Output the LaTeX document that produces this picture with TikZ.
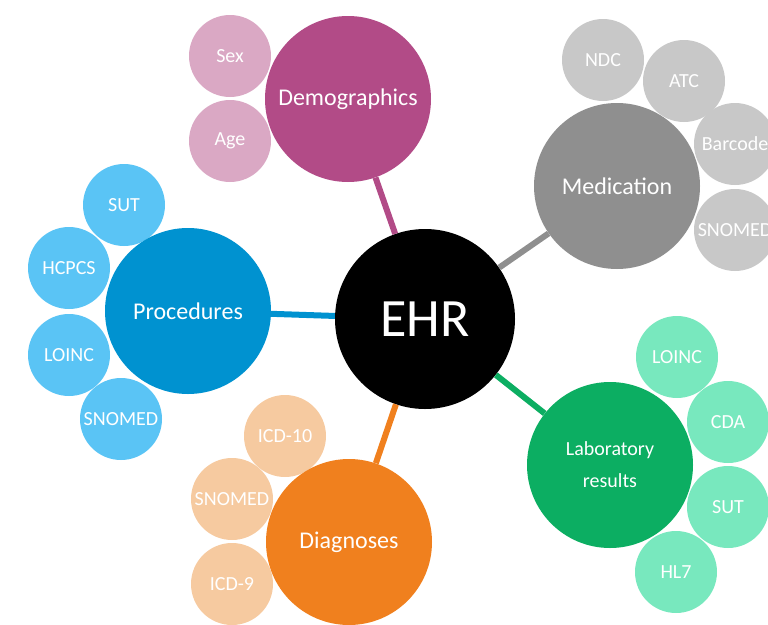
\documentclass[tikz,border=0pt]{standalone}
\usepackage{fontspec}
\setmainfont{Carlito}
\usepackage{tikz}
\definecolor{demodark}{RGB}{178,75,135}
\definecolor{demolight}{RGB}{218,168,196}
\definecolor{meddark}{RGB}{143,143,143}
\definecolor{medlight}{RGB}{200,200,200}
\definecolor{procdark}{RGB}{0,146,208}
\definecolor{proclight}{RGB}{90,196,245}
\definecolor{diagdark}{RGB}{240,128,30}
\definecolor{diaglight}{RGB}{246,202,160}
\definecolor{labdark}{RGB}{12,174,98}
\definecolor{lablight}{RGB}{120,232,190}
\tikzset{
  hub/.style={circle,fill=black,text=white,inner sep=0pt,minimum size=180pt,font=\fontsize{54}{60}\selectfont},
  topic/.style={circle,fill=#1,text=white,inner sep=0pt,minimum size=166pt,font=\fontsize{24}{30}\selectfont},
  leaf/.style={circle,fill=#1,text=white,inner sep=0pt,minimum size=82pt,font=\fontsize{20}{22}\selectfont},
  spoke/.style={line width=6pt,draw=#1}
}

\begin{document}
\begin{tikzpicture}[x=1pt,y=-1pt]
                \useasboundingbox (0,0) rectangle (768,624);
                % leaves
                \node [leaf=demolight] (sex) at (230,56) {Sex};
                \node [leaf=demolight] (age) at (230,141) {Age};
                \node [leaf=medlight] (ndc) at (603,60) {NDC};
                \node [leaf=medlight] (atc) at (684,81) {ATC};
                \node [leaf=medlight] (barcode) at (735,144) {Barcode};
                \node [leaf=medlight] (snomedmed) at (735,230) {SNOMED};
                \node [leaf=proclight] (sutproc) at (124,205) {SUT};
                \node [leaf=proclight] (hcpcs) at (69,268) {HCPCS};
                \node [leaf=proclight] (loincproc) at (69,355) {LOINC};
                \node [leaf=proclight] (snomedproc) at (121,419) {SNOMED};
                \node [leaf=diaglight] (icdten) at (285,436) {ICD-10};
                \node [leaf=diaglight] (snomeddiag) at (232,499) {SNOMED};
                \node [leaf=diaglight] (icdnine) at (232,584) {ICD-9};
                \node [leaf=lablight] (loinclab) at (677,357) {LOINC};
                \node [leaf=lablight] (cda) at (728,422) {CDA};
                \node [leaf=lablight] (sutlab) at (728,507) {SUT};
                \node [leaf=lablight] (hlseven) at (676,572) {HL7};
                % topics
                \node [topic=demodark] (demo) at (348,99) {Demographics};
                \node [topic=meddark] (med) at (617,186) {Medication};
                \node [topic=procdark] (proc) at (188,311) {Procedures};
                \node [topic=diagdark] (diag) at (349,542) {Diagnoses};
                \node [topic=labdark,align=center,font=\fontsize{20}{32}\selectfont] (lab) at (610,465) {Laboratory\\results};
                \node [hub] (ehr) at (425,319) {EHR};
                % spokes
                \draw [spoke=demodark] (ehr) -- (demo);
                \draw [spoke=meddark] (ehr) -- (med);
                \draw [spoke=procdark] (ehr) -- (proc);
                \draw [spoke=diagdark] (ehr) -- (diag);
                \draw [spoke=labdark] (ehr) -- (lab);
\end{tikzpicture}
\end{document}
